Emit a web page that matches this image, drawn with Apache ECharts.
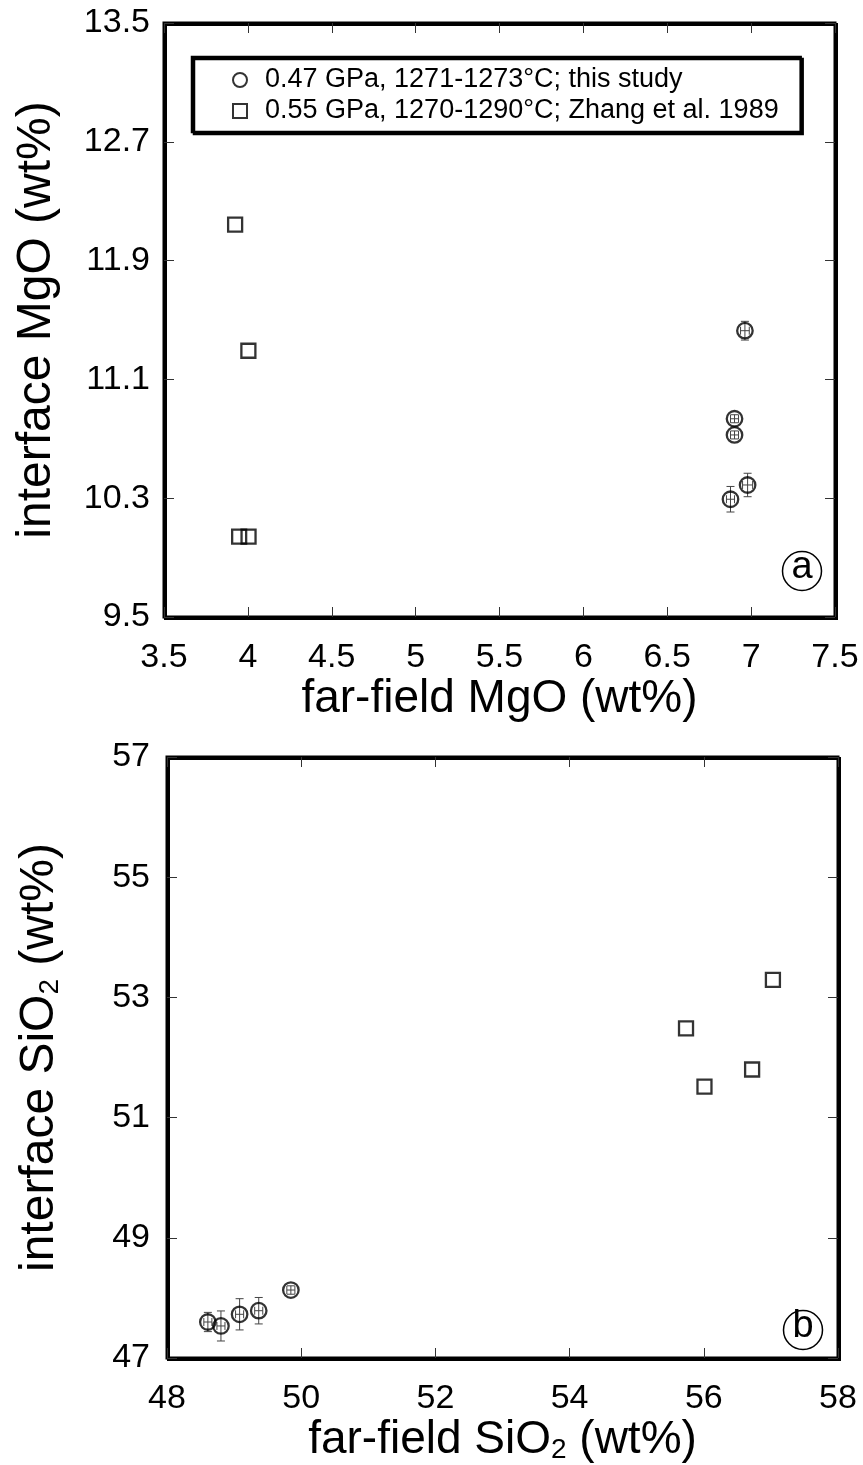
<!DOCTYPE html>
<html>
<head>
<meta charset="utf-8">
<script src="https://cdn.jsdelivr.net/npm/echarts@6/dist/echarts.min.js"></script>
<style>
  html, body { margin: 0; padding: 0; background: #fff; }
  #chart { width: 863px; height: 1465px; }
</style>
</head>
<body>
<div id="chart"></div>
<script>
// ---- series names ----
const NAME_THIS = '0.47 GPa, 1271-1273°C; this study';
const NAME_ZHANG = '0.55 GPa, 1270-1290°C; Zhang et al. 1989';

// ---- panel (a): MgO ----
const mgoThisX    = [6.963, 6.901, 6.901, 6.979, 6.877];
const mgoThisY    = [11.428, 10.835, 10.726, 10.389, 10.293];
const mgoThisXErr = [0.026, 0.024, 0.024, 0.030, 0.024];
const mgoThisYErr = [0.063, 0.027, 0.027, 0.079, 0.086];
const mgoZhangX   = [3.924, 4.003, 3.948, 4.004];
const mgoZhangY   = [12.142, 11.293, 10.041, 10.041];

// ---- panel (b): SiO2 ----
const sioThisX    = [48.609, 48.804, 49.082, 49.367, 49.846];
const sioThisY    = [47.599, 47.533, 47.727, 47.787, 48.131];
const sioThisXErr = [0.06, 0.06, 0.06, 0.06, 0.06];
const sioThisYErr = [0.16, 0.25, 0.26, 0.22, 0.07];
const sioZhangX   = [57.03, 55.735, 56.72, 56.01];
const sioZhangY   = [53.29, 52.486, 51.80, 51.514];

// ---- axis ranges: [min, max, tick step] ----
const mgoXTicks = [3.5, 7.5, 0.5];
const mgoYTicks = [9.5, 13.5, 0.8];
const sioXTicks = [48, 58, 2];
const sioYTicks = [47, 57, 2];

const FONT = '"Liberation Sans", Arial, Helvetica, sans-serif';

const zip2 = (xs, ys) => xs.map((x, i) => [x, ys[i]]);
const zip4 = (xs, ys, ex, ey) => xs.map((x, i) => [x, ys[i], ex[i], ey[i]]);

const tickStyle = { inside: true, length: 10, lineStyle: { color: '#333', width: 1 } };

function mainAxis(gridIndex, range, pos, name, nameGap, fmt, labelMargin, nameSize) {
  return {
    type: 'value', gridIndex, position: pos,
    min: range[0], max: range[1], interval: range[2],
    axisLine: { show: false },
    axisTick: tickStyle,
    splitLine: { show: false },
    axisLabel: {
      color: '#000', fontSize: 34, fontFamily: FONT, margin: labelMargin,
      formatter: fmt
    },
    name, nameLocation: 'middle', nameGap,
    nameRotate: (pos === 'left') ? 90 : 0,
    nameTextStyle: {
      color: '#000', fontSize: nameSize, fontFamily: FONT,
      rich: { sub: { fontSize: 28, fontFamily: FONT, color: '#000', padding: [20, 0, 0, 0] } }
    }
  };
}
function mirrorAxis(gridIndex, range, pos) {
  return {
    type: 'value', gridIndex, position: pos,
    min: range[0], max: range[1], interval: range[2],
    axisLine: { show: false }, axisTick: tickStyle,
    axisLabel: { show: false }, splitLine: { show: false }
  };
}

// error bars with small end caps, drawn in data space
function errorBars(params, api) {
  const x = api.value(0), y = api.value(1), ex = api.value(2), ey = api.value(3);
  const t = api.coord([x, y + ey]), b = api.coord([x, y - ey]);
  const l = api.coord([x - ex, y]), r = api.coord([x + ex, y]);
  const c = 4;
  const st = { stroke: '#444', lineWidth: 1 };
  const ln = (x1, y1, x2, y2) => ({ type: 'line', shape: { x1, y1, x2, y2 }, style: st });
  return {
    type: 'group',
    children: [
      ln(t[0], t[1], b[0], b[1]),
      ln(t[0] - c, t[1], t[0] + c, t[1]),
      ln(b[0] - c, b[1], b[0] + c, b[1]),
      ln(l[0], l[1], r[0], r[1]),
      ln(l[0], l[1] - c, l[0], l[1] + c),
      ln(r[0], r[1] - c, r[0], r[1] + c)
    ]
  };
}

const hollow = { color: 'rgba(255,255,255,0)', borderColor: '#000', borderWidth: 2.3 };
const gridBox = {
  show: true, borderColor: '#000', borderWidth: 3, backgroundColor: 'rgba(255,255,255,0)',
  shadowColor: '#000', shadowOffsetX: 1.5, shadowOffsetY: 1.5, shadowBlur: 0
};

function circledLetter(cx, cy, ch) {
  return {
    type: 'group', x: cx, y: cy,
    children: [
      { type: 'circle', shape: { cx: 0, cy: 0, r: 19.5 }, style: { fill: 'none', stroke: '#000', lineWidth: 1.5 } },
      { type: 'text', x: 0, y: -3, style: { text: ch, fontSize: 38, fontFamily: FONT, fill: '#000', align: 'center', verticalAlign: 'middle' } }
    ]
  };
}

const chart = echarts.init(document.getElementById('chart'), null, { renderer: 'canvas' });
chart.setOption({
  animation: false,
  backgroundColor: '#fff',
  grid: [
    Object.assign({ left: 164, top: 23, width: 671, height: 594 }, gridBox),
    Object.assign({ left: 167, top: 757, width: 671, height: 601 }, gridBox)
  ],
  xAxis: [
    mainAxis(0, mgoXTicks, 'bottom', 'far-field MgO (wt%)', 49, v => String(+v.toFixed(1)), 24, 46),
    mirrorAxis(0, mgoXTicks, 'top'),
    mainAxis(1, sioXTicks, 'bottom', 'far-field SiO{sub|2} (wt%)', 45, v => String(Math.round(v)), 24, 46),
    mirrorAxis(1, sioXTicks, 'top')
  ],
  yAxis: [
    mainAxis(0, mgoYTicks, 'left', 'interface MgO (wt%)', 103, v => v.toFixed(1), 14, 48),
    mirrorAxis(0, mgoYTicks, 'right'),
    mainAxis(1, sioYTicks, 'left', 'interface SiO{sub|2} (wt%)', 103, v => String(Math.round(v)), 17, 48),
    mirrorAxis(1, sioYTicks, 'right')
  ],
  legend: {
    data: [NAME_THIS, NAME_ZHANG],
    orient: 'vertical', left: 192, top: 57,
    padding: [9, 22, 7, 40], itemGap: 3,
    itemWidth: 14, itemHeight: 14,
    selectedMode: false,
    backgroundColor: '#fff', borderColor: '#000', borderWidth: 2.5,
    shadowColor: '#000', shadowOffsetX: 2, shadowOffsetY: 2, shadowBlur: 0,
    itemStyle: { color: 'rgba(255,255,255,0)', borderColor: '#000', borderWidth: 2 },
    textStyle: { color: '#000', fontSize: 27, fontFamily: FONT, lineHeight: 28, padding: [0, 0, 0, 13] }
  },
  series: [
    { type: 'custom', name: 'mgo-err', xAxisIndex: 0, yAxisIndex: 0, silent: true, z: 2,
      encode: { x: 0, y: 1 }, renderItem: errorBars,
      data: zip4(mgoThisX, mgoThisY, mgoThisXErr, mgoThisYErr) },
    { type: 'scatter', name: NAME_THIS, xAxisIndex: 0, yAxisIndex: 0, z: 3,
      symbol: 'circle', symbolSize: 15.5, itemStyle: hollow,
      data: zip2(mgoThisX, mgoThisY) },
    { type: 'scatter', name: NAME_ZHANG, xAxisIndex: 0, yAxisIndex: 0, z: 3,
      symbol: 'rect', symbolSize: 14, itemStyle: hollow,
      data: zip2(mgoZhangX, mgoZhangY) },
    { type: 'custom', name: 'sio-err', xAxisIndex: 2, yAxisIndex: 2, silent: true, z: 2,
      encode: { x: 0, y: 1 }, renderItem: errorBars,
      data: zip4(sioThisX, sioThisY, sioThisXErr, sioThisYErr) },
    { type: 'scatter', name: NAME_THIS, xAxisIndex: 2, yAxisIndex: 2, z: 3,
      symbol: 'circle', symbolSize: 15.5, itemStyle: hollow,
      data: zip2(sioThisX, sioThisY) },
    { type: 'scatter', name: NAME_ZHANG, xAxisIndex: 2, yAxisIndex: 2, z: 3,
      symbol: 'rect', symbolSize: 14, itemStyle: hollow,
      data: zip2(sioZhangX, sioZhangY) }
  ],
  graphic: [
    circledLetter(802, 571, 'a'),
    circledLetter(803, 1330, 'b')
  ]
});
</script>
</body>
</html>
